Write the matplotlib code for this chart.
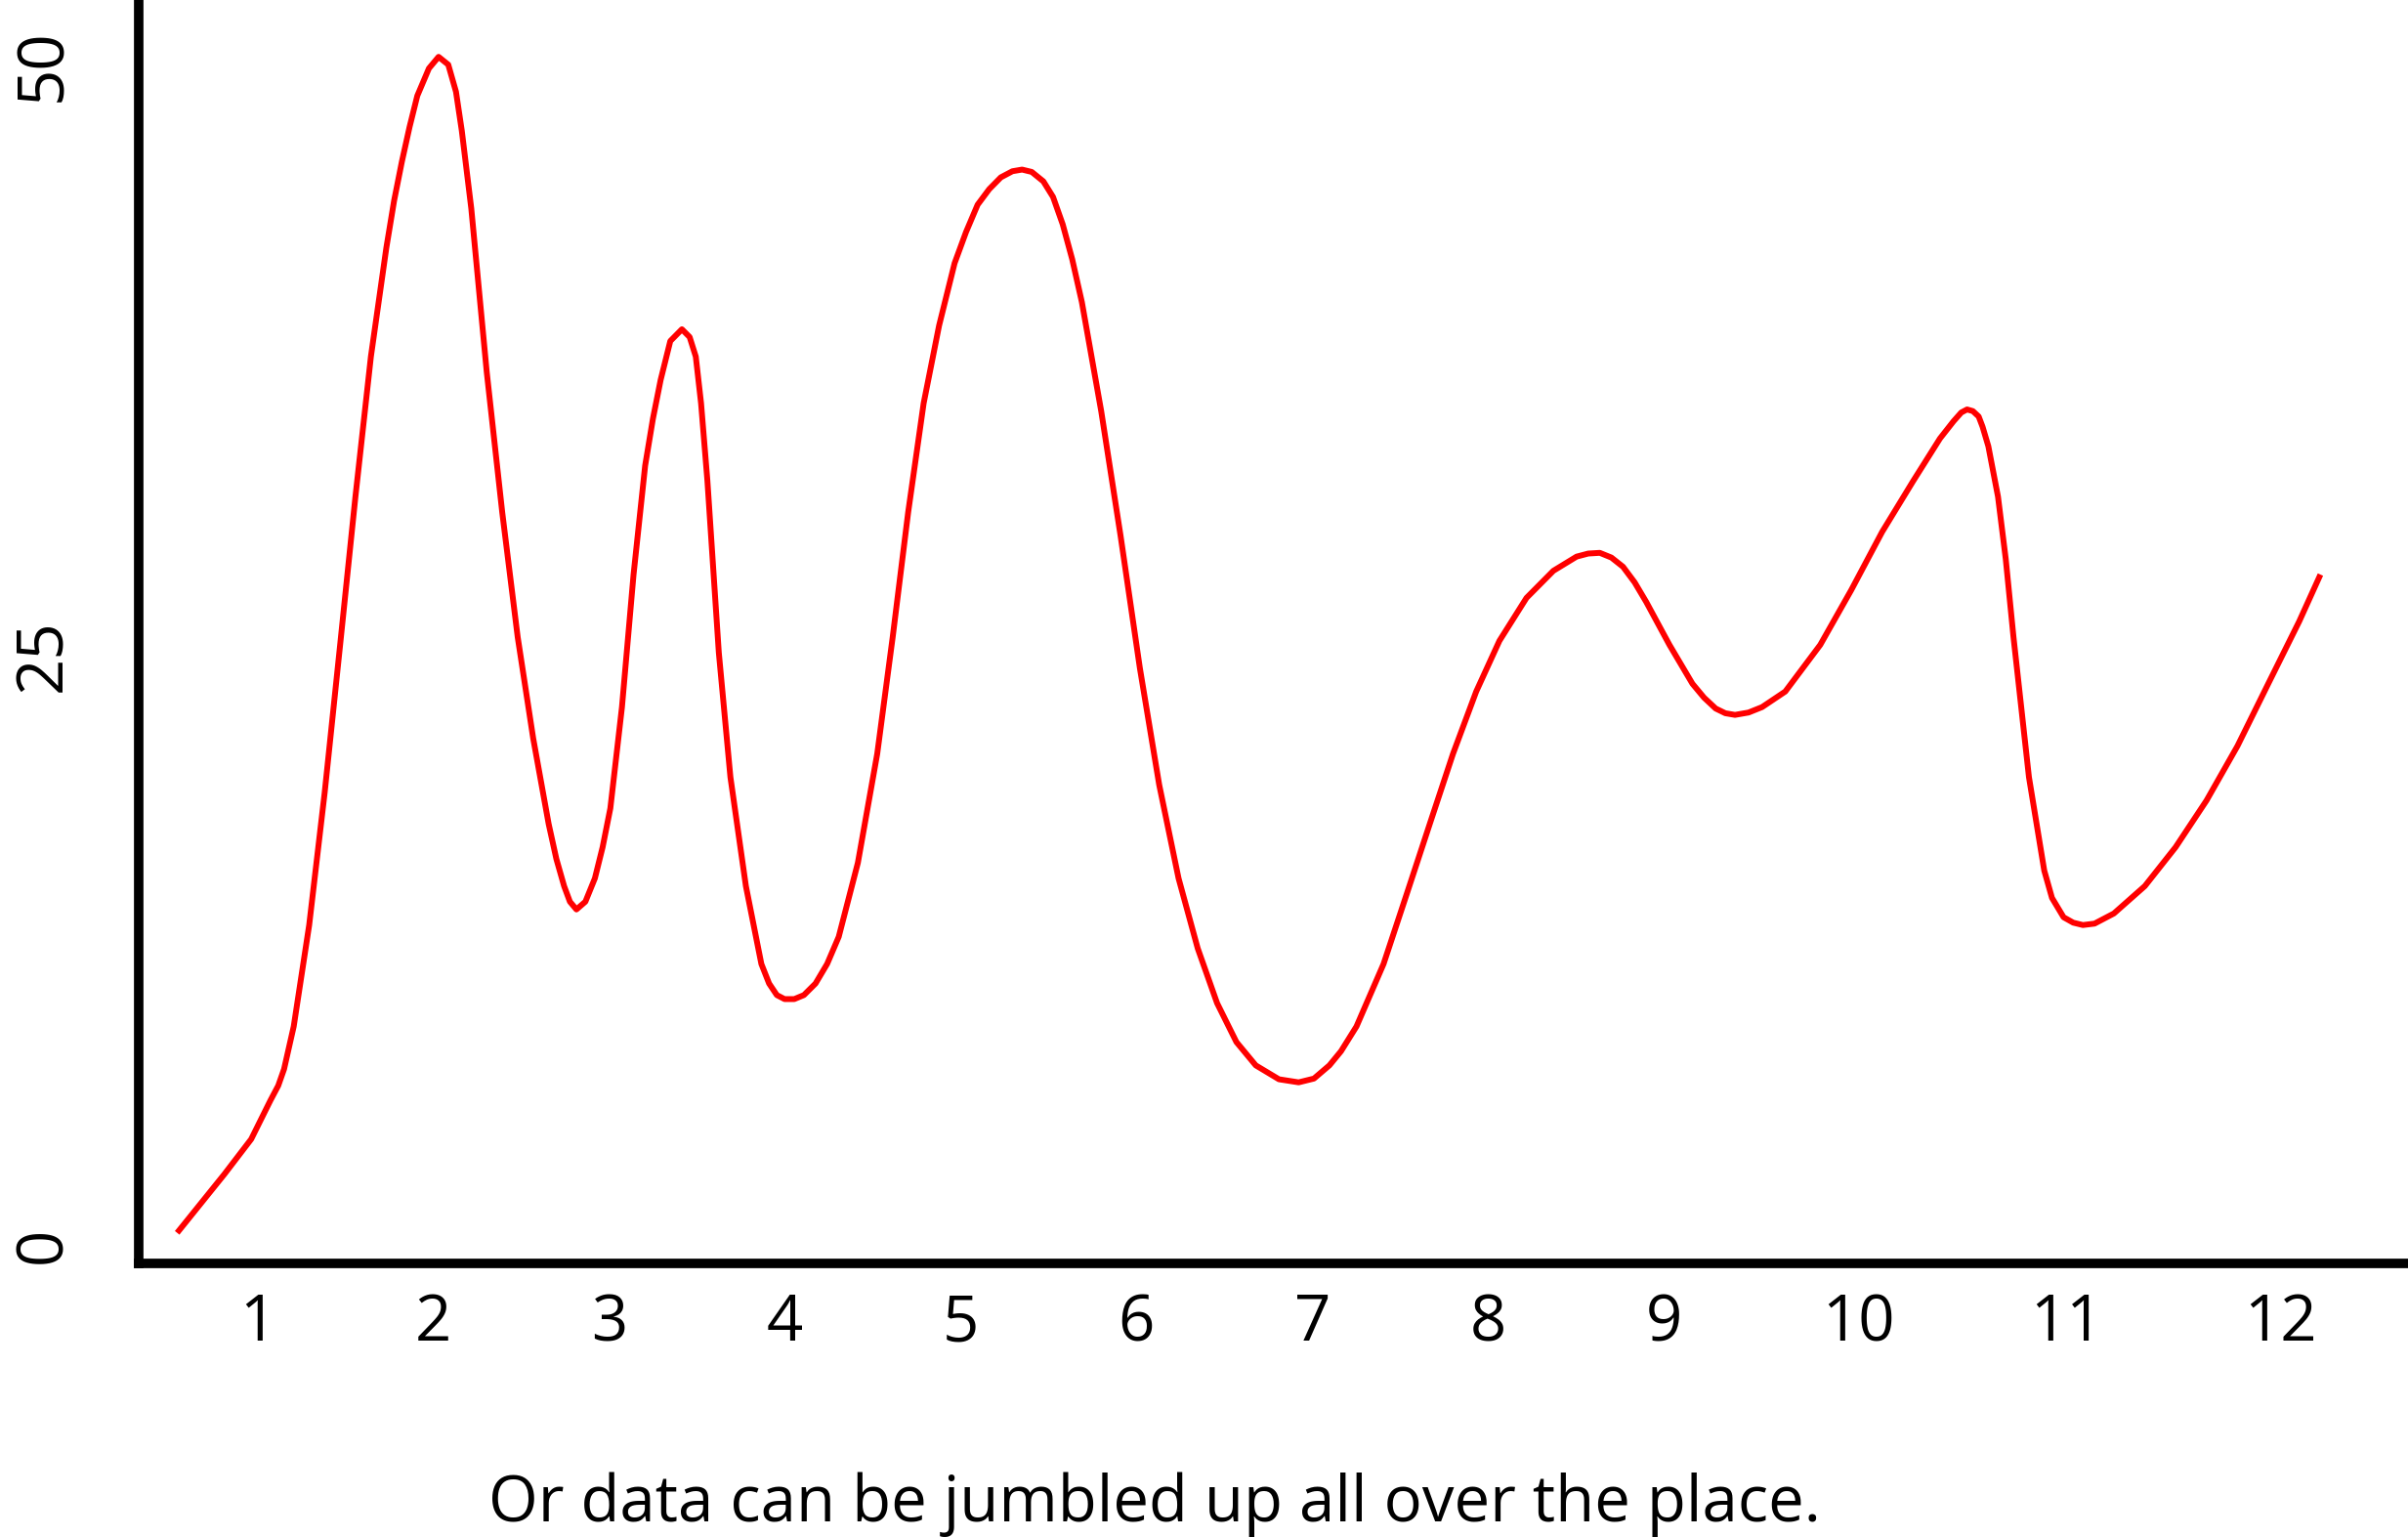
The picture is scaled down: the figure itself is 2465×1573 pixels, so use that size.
import matplotlib.pyplot as plt

# curve (x in tick units, y in value units)
x_vals = [0.544, 0.812, 0.965, 1.075, 1.119, 1.152, 1.207, 1.295, 1.383, 1.471,
          1.558, 1.646, 1.734, 1.778, 1.822, 1.866, 1.910, 1.976, 2.031, 2.086,
          2.130, 2.163, 2.217, 2.305, 2.393, 2.481, 2.569, 2.657, 2.701, 2.745,
          2.778, 2.815, 2.866, 2.920, 2.964, 3.008, 3.074, 3.140, 3.206, 3.250,
          3.294, 3.349, 3.415, 3.459, 3.494, 3.524, 3.560, 3.625, 3.691, 3.779,
          3.867, 3.911, 3.955, 3.999, 4.054, 4.109, 4.175, 4.241, 4.307, 4.416,
          4.526, 4.614, 4.702, 4.790, 4.878, 4.966, 5.031, 5.097, 5.163, 5.229,
          5.295, 5.350, 5.405, 5.471, 5.526, 5.581, 5.635, 5.690, 5.800, 5.910,
          6.020, 6.130, 6.240, 6.349, 6.459, 6.569, 6.679, 6.811, 6.923, 7.010,
          7.098, 7.164, 7.252, 7.406, 7.538, 7.669, 7.801, 7.933, 8.065, 8.219,
          8.372, 8.504, 8.570, 8.636, 8.702, 8.768, 8.834, 8.900, 9.032, 9.163,
          9.229, 9.295, 9.350, 9.405, 9.482, 9.559, 9.691, 9.890, 10.066, 10.242,
          10.418, 10.571, 10.648, 10.692, 10.725, 10.758, 10.791, 10.813, 10.846, 10.901,
          10.945, 10.989, 11.077, 11.164, 11.208, 11.274, 11.329, 11.384, 11.450, 11.560,
          11.736, 11.911, 12.087, 12.263, 12.438, 12.614, 12.735]
y_vals = [0.51, 2.99, 4.48, 6.13, 6.75, 7.45, 9.26, 13.56, 19.17, 25.44,
          31.72, 37.66, 42.28, 44.27, 45.92, 47.40, 48.72, 49.88, 50.37, 50.04,
          48.89, 47.24, 43.94, 37.00, 31.06, 25.77, 21.48, 17.85, 16.36, 15.21,
          14.55, 14.22, 14.55, 15.54, 16.86, 18.51, 22.80, 28.42, 33.04, 35.02,
          36.67, 38.32, 38.82, 38.49, 37.66, 35.68, 32.40, 25.11, 19.83, 15.21,
          11.91, 11.08, 10.59, 10.42, 10.42, 10.59, 11.08, 11.91, 13.06, 16.20,
          20.82, 25.77, 31.06, 35.68, 38.98, 41.62, 42.94, 44.10, 44.76, 45.26,
          45.52, 45.59, 45.49, 45.09, 44.43, 43.27, 41.79, 39.97, 35.35, 30.07,
          24.45, 19.50, 15.54, 12.57, 10.25, 8.60, 7.61, 7.02, 6.89, 7.05,
          7.61, 8.21, 9.26, 11.91, 14.88, 17.85, 20.82, 23.46, 25.61, 27.43,
          28.58, 29.18, 29.31, 29.34, 29.14, 28.75, 28.09, 27.26, 25.44, 23.79,
          23.20, 22.74, 22.54, 22.47, 22.57, 22.80, 23.46, 25.44, 27.76, 30.23,
          32.38, 34.19, 34.92, 35.29, 35.42, 35.35, 35.12, 34.69, 33.86, 31.72,
          29.08, 25.77, 19.83, 15.87, 14.71, 13.89, 13.66, 13.56, 13.62, 14.05,
          15.21, 16.86, 18.84, 21.15, 23.79, 26.43, 28.42]

# the hand-drawn axis labels are not evenly spaced after 9
x_tick_pos = [1, 2, 3, 4, 5, 6, 7, 8, 9, 10.11, 11.29, 12.51]
x_tick_labels = ['1', '2', '3', '4', '5', '6', '7', '8', '9', '10', '11', '12']
y_tick_pos = [0, 25, 50]
y_tick_labels = ['0', '25', '50']

caption = 'Or data can be jumbled up all over the place.'

plt.rcParams['font.family'] = ['Open Sans', 'DejaVu Sans']

fig = plt.figure(figsize=(24.65, 15.73), dpi=100)
ax = fig.add_axes([0.0578, 0.178, 1 - 0.0578, 1 - 0.178])

ax.plot(x_vals, y_vals, color='#ff0000', lw=4.3, solid_joinstyle='round', solid_capstyle='butt')

ax.set_xlim(0.328, 13.233)
ax.set_ylim(-0.787, 52.78)

for side in ['top', 'right']:
    ax.spines[side].set_visible(False)
for side in ['left', 'bottom']:
    ax.spines[side].set_linewidth(7)
    ax.spines[side].set_capstyle('projecting')

ax.set_xticks(x_tick_pos)
ax.set_xticklabels(x_tick_labels)
ax.set_yticks(y_tick_pos)
ax.set_yticklabels(y_tick_labels, rotation=90, va='center')
ax.tick_params(axis='x', length=0, pad=21, labelsize=47)
ax.tick_params(axis='y', length=0, pad=46, labelsize=47)

fig.text(0.4795, 0.0102, caption, ha='center', va='baseline', fontsize=47)

fig.savefig('out.png', dpi=100)
